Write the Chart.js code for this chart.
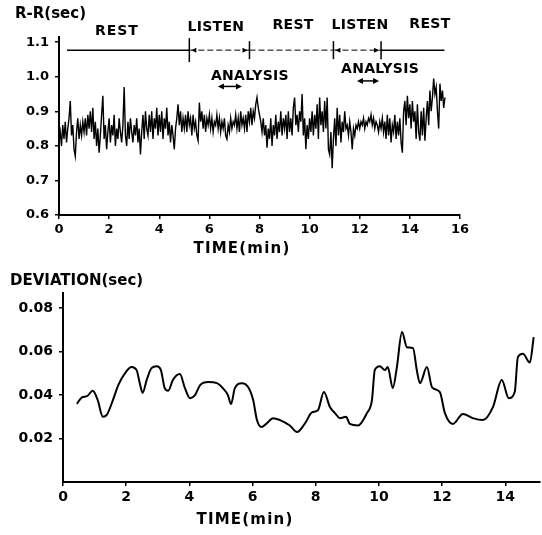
<!DOCTYPE html>
<html><head><meta charset="utf-8">
<script src="https://cdn.jsdelivr.net/npm/chart.js@4/dist/chart.umd.min.js"></script>
<style>
html,body{margin:0;padding:0;background:#fff;}
#wrap{position:relative;width:542px;height:535px;overflow:hidden;}
#c1{position:absolute;left:0;top:0;width:542px;height:260px;}
#c2{position:absolute;left:0;top:260px;width:542px;height:275px;}
</style></head><body>
<div id="wrap"><canvas id="c1" width="542" height="260"></canvas><canvas id="c2" width="542" height="275"></canvas></div>
<script>
// ---------- DATA ----------
const rrStartMin = 0;
const rrStepMin = 0.05;
const rrValues = [
0.81,0.84,0.80,0.86,0.82,0.87,0.81,0.85,0.88,0.93,0.83,0.86,0.79,0.77,0.84,0.88,0.82,0.86,0.83,0.87,
0.84,0.88,0.83,0.89,0.85,0.90,0.84,0.91,0.82,0.87,0.80,0.85,0.78,0.83,0.89,0.945,0.82,0.86,0.79,0.84,
0.88,0.81,0.86,0.83,0.89,0.80,0.85,0.82,0.88,0.84,0.81,0.86,0.97,0.83,0.80,0.87,0.82,0.88,0.84,0.81,
0.86,0.83,0.88,0.81,0.85,0.775,0.84,0.89,0.82,0.90,0.85,0.83,0.89,0.84,0.90,0.82,0.88,0.85,0.91,0.83,
0.89,0.84,0.90,0.82,0.88,0.85,0.91,0.83,0.87,0.81,0.86,0.83,0.79,0.85,0.88,0.92,0.86,0.90,0.84,0.88,
0.85,0.89,0.84,0.90,0.86,0.88,0.83,0.89,0.85,0.87,0.83,0.815,0.925,0.87,0.90,0.85,0.89,0.84,0.88,0.86,
0.89,0.85,0.88,0.84,0.87,0.86,0.89,0.85,0.88,0.84,0.87,0.85,0.88,0.83,0.82,0.86,0.84,0.88,0.85,0.87,
0.86,0.89,0.85,0.88,0.84,0.90,0.86,0.88,0.85,0.89,0.84,0.90,0.87,0.91,0.86,0.90,0.88,0.92,0.94,0.91,
0.89,0.87,0.84,0.88,0.83,0.86,0.795,0.85,0.82,0.88,0.80,0.86,0.83,0.89,0.82,0.87,0.84,0.90,0.83,0.88,
0.85,0.89,0.82,0.90,0.84,0.88,0.83,0.91,0.94,0.86,0.89,0.84,0.90,0.87,0.95,0.83,0.88,0.79,0.86,0.82,
0.88,0.84,0.90,0.83,0.89,0.85,0.92,0.82,0.94,0.86,0.90,0.84,0.93,0.85,0.94,0.79,0.775,0.84,0.735,0.82,
0.88,0.80,0.91,0.83,0.89,0.81,0.87,0.84,0.90,0.85,0.86,0.83,0.87,0.84,0.79,0.85,0.83,0.86,0.85,0.87,
0.85,0.87,0.86,0.88,0.85,0.87,0.86,0.88,0.87,0.89,0.86,0.88,0.85,0.87,0.86,0.84,0.87,0.85,0.88,0.84,
0.87,0.82,0.89,0.83,0.88,0.81,0.86,0.84,0.89,0.82,0.87,0.83,0.88,0.81,0.78,0.90,0.93,0.86,0.945,0.88,
0.92,0.85,0.93,0.87,0.90,0.82,0.92,0.84,0.815,0.90,0.83,0.91,0.815,0.88,0.93,0.86,0.96,0.90,0.94,0.995,
0.95,0.97,0.90,0.85,0.98,0.93,0.96,0.91,0.94
];
const rrTicksX = [0,2,4,6,8,10,12,14,16];
const rrTicksY = [0.6,0.7,0.8,0.9,1.0,1.1];

const devTimes = [0.44,0.6,0.76,0.94,1.1,1.26,1.39,1.58,1.75,1.96,2.17,2.33,2.43,2.52,2.65,2.8,2.97,3.1,3.22,3.33,
3.48,3.7,3.86,4.02,4.18,4.34,4.6,4.87,5.06,5.22,5.32,5.44,5.66,5.86,6.02,6.14,6.28,6.45,6.65,6.87,
7.18,7.41,7.66,7.88,8.07,8.26,8.45,8.61,8.77,8.96,9.08,9.34,9.62,9.78,9.87,10.03,10.19,10.28,10.44,10.57,
10.73,10.89,11.08,11.2,11.3,11.52,11.68,11.93,12.09,12.34,12.66,12.97,13.29,13.61,13.89,14.11,14.3,14.4,14.56,14.78,14.9];
const devValues = [0.036,0.039,0.0395,0.042,0.0377,0.030,0.031,0.0377,0.0446,0.050,0.0529,0.0515,0.0455,0.041,0.047,0.0524,0.0533,0.0515,0.0432,0.042,
0.047,0.0497,0.0432,0.0386,0.040,0.0446,0.046,0.0455,0.0432,0.040,0.0359,0.0432,0.0455,0.0437,0.0377,0.0285,0.0253,0.027,0.0294,0.0285,
0.026,0.023,0.027,0.032,0.033,0.0414,0.0345,0.0317,0.0294,0.030,0.0267,0.026,0.0317,0.0377,0.0515,0.0533,0.0515,0.0529,0.0432,0.0529,
0.069,0.062,0.0616,0.0515,0.0455,0.0529,0.0437,0.0414,0.0317,0.0267,0.0313,0.0294,0.0285,0.0345,0.047,0.0386,0.0414,0.0575,0.059,0.055,0.0667];
const devTicksX = [0,2,4,6,8,10,12,14];
const devTicksY = [0.02,0.04,0.06,0.08];

// phase annotations (time in minutes)
const phaseNames = ['REST','LISTEN','REST','LISTEN','REST'];
const phaseBounds = [0.32,5.2,7.6,10.95,12.85,15.38];
const phaseLabelTimes = [2.31,6.26,9.34,12.01,14.8];
const phaseLabelLevels = [1.13,1.144,1.15,1.15,1.153];
const analysisTimes = [7.62,12.81];
const analysisLevels = [1.0,1.02];
const analysisSpans = [[6.34,7.30],[11.89,12.77]];
const analysisArrowLevels = [0.972,0.988];
const phaseLineLevel = 1.077;

// ---------- HELPERS ----------
const FONT = '"DejaVu Sans", "Liberation Sans", sans-serif';
function txt(ctx, s, x, y, size, align, spacing){
  ctx.font = 'bold ' + size + 'px ' + FONT;
  ctx.textAlign = align; ctx.textBaseline = 'middle';
  try { ctx.letterSpacing = (spacing||0) + 'px'; } catch(e){}
  ctx.fillText(s, x, y);
  try { ctx.letterSpacing = '0px'; } catch(e){}
}
function dblArrow(ctx, x1, x2, y){
  ctx.lineWidth = 1.5; ctx.setLineDash([]);
  ctx.beginPath(); ctx.moveTo(x1+3,y); ctx.lineTo(x2-3,y); ctx.stroke();
  ctx.beginPath(); ctx.moveTo(x1,y); ctx.lineTo(x1+6,y-3); ctx.lineTo(x1+6,y+3); ctx.closePath(); ctx.fill();
  ctx.beginPath(); ctx.moveTo(x2,y); ctx.lineTo(x2-6,y-3); ctx.lineTo(x2-6,y+3); ctx.closePath(); ctx.fill();
}
function axisCommon(){
  return {
    border:{display:true,color:'#000',width:2},
    grid:{display:true,drawOnChartArea:false,drawTicks:true,tickLength:4,color:'#000',lineWidth:1.5}
  };
}

// ---------- CHART 1 ----------
const annot1 = {
  id:'annot1',
  afterDraw(chart){
    const {ctx, scales:{x,y}} = chart;
    ctx.save();
    ctx.fillStyle='#000'; ctx.strokeStyle='#000';
    const ly = y.getPixelForValue(phaseLineLevel);
    for(let i=0;i<phaseNames.length;i++){
      const xa = x.getPixelForValue(phaseBounds[i]), xb = x.getPixelForValue(phaseBounds[i+1]);
      if(i===0||i===4){ctx.setLineDash([]);ctx.lineWidth=1.5;} else {ctx.setLineDash([6,3]);ctx.lineWidth=1;}
      ctx.beginPath(); ctx.moveTo(xa,ly); ctx.lineTo(xb,ly); ctx.stroke();
      txt(ctx, phaseNames[i], x.getPixelForValue(phaseLabelTimes[i]), y.getPixelForValue(phaseLabelLevels[i]), 14, 'center', i===0?1:0.3);
    }
    ctx.setLineDash([]); ctx.lineWidth=1.5;
    for(let i=1;i<phaseBounds.length-1;i++){
      const xt = x.getPixelForValue(phaseBounds[i]);
      const h = (i===1)?12:9;
      ctx.beginPath(); ctx.moveTo(xt,ly-h); ctx.lineTo(xt,ly+h); ctx.stroke();
      const d = (i%2===1)?1:-1;
      ctx.beginPath(); ctx.moveTo(xt+d*2,ly); ctx.lineTo(xt+d*7,ly-2.5); ctx.lineTo(xt+d*7,ly+2.5); ctx.closePath(); ctx.fill();
    }
    for(let i=0;i<analysisTimes.length;i++){
      txt(ctx,'ANALYSIS', x.getPixelForValue(analysisTimes[i]), y.getPixelForValue(analysisLevels[i]), 14, 'center', 0.3);
      dblArrow(ctx, x.getPixelForValue(analysisSpans[i][0]), x.getPixelForValue(analysisSpans[i][1]), y.getPixelForValue(analysisArrowLevels[i]));
    }
    txt(ctx,'R-R(sec)', 15, 14, 15, 'left', 0);
    txt(ctx,'TIME(min)', 242, 249, 15, 'center', 1.2);
    ctx.restore();
  }
};

new Chart(document.getElementById('c1'), {
  type:'line',
  data:{datasets:[{
    data: rrValues.map((v,i)=>({x: rrStartMin + i*rrStepMin, y: v})),
    borderColor:'#000', borderWidth:1.4, pointRadius:0, tension:0, fill:false
  }]},
  options:{
    responsive:false, animation:false, devicePixelRatio:1,
    layout:{padding:{left:0,right:82,top:37,bottom:0}},
    plugins:{legend:{display:false},tooltip:{enabled:false},title:{display:false}},
    scales:{
      x:Object.assign(axisCommon(),{
        type:'linear', min:0, max:16,
        afterBuildTicks(s){ s.ticks = rrTicksX.map(v=>({value:v})); },
        afterFit(s){ s.height = 45; },
        ticks:{color:'#000',padding:3,maxRotation:0,autoSkip:false,font:{family:FONT,size:13,weight:'bold'},callback:v=>String(v)}
      }),
      y:Object.assign(axisCommon(),{
        type:'linear', min:0.6, max:1.115,
        afterBuildTicks(s){ s.ticks = rrTicksY.map(v=>({value:v})); },
        afterFit(s){ s.width = 59; },
        ticks:{color:'#000',padding:6,autoSkip:false,font:{family:FONT,size:13,weight:'bold'},callback:v=>Number(v).toFixed(1)}
      })
    }
  },
  plugins:[annot1]
});

// ---------- CHART 2 ----------
const annot2 = {
  id:'annot2',
  afterDraw(chart){
    const {ctx} = chart;
    ctx.save(); ctx.fillStyle='#000';
    txt(ctx,'DEVIATION(sec)', 10, 21, 15, 'left', 0);
    txt(ctx,'TIME(min)', 245, 260, 15, 'center', 1.2);
    ctx.restore();
  }
};

new Chart(document.getElementById('c2'), {
  type:'line',
  data:{datasets:[{
    data: devTimes.map((t,i)=>({x:t, y:devValues[i]})),
    borderColor:'#000', borderWidth:2, pointRadius:0, cubicInterpolationMode:'monotone', fill:false
  }]},
  options:{
    responsive:false, animation:false, devicePixelRatio:1,
    layout:{padding:{left:0,right:2,top:33,bottom:0}},
    plugins:{legend:{display:false},tooltip:{enabled:false},title:{display:false}},
    scales:{
      x:Object.assign(axisCommon(),{
        type:'linear', min:0, max:15.1,
        afterBuildTicks(s){ s.ticks = devTicksX.map(v=>({value:v})); },
        afterFit(s){ s.height = 53; },
        ticks:{color:'#000',padding:3,maxRotation:0,autoSkip:false,font:{family:FONT,size:14,weight:'bold'},callback:v=>String(v)}
      }),
      y:Object.assign(axisCommon(),{
        type:'linear', min:0, max:0.087,
        afterBuildTicks(s){ s.ticks = devTicksY.map(v=>({value:v})); },
        afterFit(s){ s.width = 63; },
        ticks:{color:'#000',padding:6,autoSkip:false,font:{family:FONT,size:14,weight:'bold'},callback:v=>Number(v).toFixed(2)}
      })
    }
  },
  plugins:[annot2]
});
</script>
</body></html>
